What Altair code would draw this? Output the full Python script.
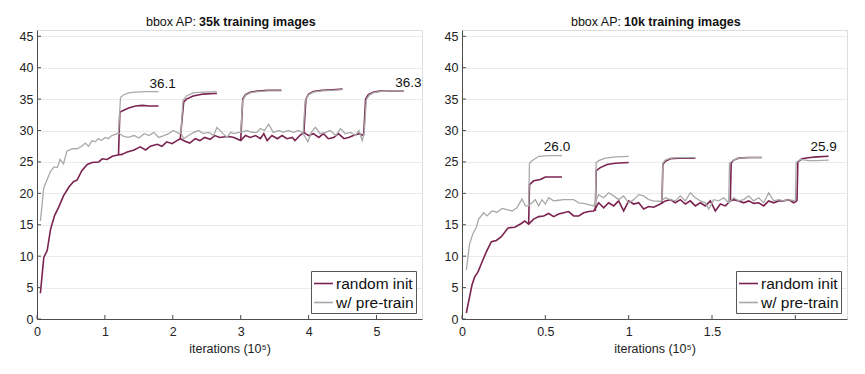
import altair as alt
import pandas as pd

# ---------------- data (x in units of 1e5 iterations, y = bbox AP) ----------------
SERIES = ["random init", "w/ pre-train"]
COLORS = ["#7b2350", "#a9a9a9"]

# Left panel: 35k training images
L_RAND_X = [0.05, 0.1, 0.15, 0.2, 0.26, 0.32, 0.39, 0.47, 0.54, 0.59, 0.66, 0.74, 0.81, 0.91, 0.96, 1.03, 1.11, 1.19,
            1.25, 1.33, 1.43, 1.52, 1.6, 1.67, 1.77, 1.84, 1.91, 1.99, 2.06, 2.11, 2.18, 2.25, 2.33, 2.4, 2.47, 2.55,
            2.62, 2.69, 2.77, 2.85, 2.9, 3.0, 3.07, 3.14, 3.22, 3.29, 3.34, 3.39, 3.46, 3.54, 3.61, 3.68, 3.76, 3.8,
            3.87, 3.93, 4.0, 4.07, 4.15, 4.22, 4.29, 4.37, 4.44, 4.52, 4.59, 4.66, 4.74, 4.81]
L_RAND_Y = [4.1, 9.8, 10.9, 14.3, 16.5, 17.8, 19.6, 21.0, 21.9, 22.1, 23.6, 24.6, 24.9, 25.0, 25.5, 25.4, 25.9, 26.1,
            26.2, 26.6, 26.9, 27.4, 26.9, 27.5, 27.8, 27.5, 28.2, 27.9, 28.4, 28.7, 28.3, 28.0, 28.7, 28.4, 28.9, 28.6,
            29.2, 28.9, 29.0, 29.0, 28.9, 28.4, 29.2, 28.9, 29.2, 28.7, 29.5, 28.4, 29.2, 28.7, 29.2, 28.7, 28.9, 28.4,
            29.2, 29.7, 29.2, 29.5, 28.9, 29.5, 28.7, 28.9, 29.5, 28.7, 28.9, 29.2, 29.5, 29.2]
L_PRE_X = [0.05, 0.1, 0.15, 0.2, 0.25, 0.3, 0.34, 0.39, 0.44, 0.52, 0.59, 0.66, 0.71, 0.76, 0.81, 0.86, 0.9, 0.95,
           1.0, 1.05, 1.1, 1.15, 1.2, 1.27, 1.34, 1.43, 1.5, 1.58, 1.65, 1.72, 1.79, 1.87, 1.94, 2.01, 2.09, 2.12,
           2.16, 2.23, 2.31, 2.38, 2.45, 2.53, 2.6, 2.65, 2.72, 2.8, 2.85, 2.9, 2.97, 3.0, 3.09, 3.16, 3.24, 3.29,
           3.35, 3.41, 3.48, 3.56, 3.63, 3.7, 3.78, 3.85, 3.91, 3.99, 4.04, 4.1, 4.17, 4.25, 4.32, 4.4, 4.47, 4.54,
           4.62, 4.69, 4.74, 4.79, 4.82]
L_PRE_Y = [15.6, 20.9, 22.2, 23.5, 24.2, 24.1, 25.4, 24.7, 26.7, 27.1, 27.1, 27.5, 28.0, 27.5, 28.4, 28.2, 28.7, 28.4,
           28.9, 28.7, 29.2, 29.4, 29.6, 29.1, 28.9, 29.2, 28.8, 29.5, 29.2, 29.7, 28.9, 29.2, 29.5, 30.0, 29.5, 29.6,
           28.7, 29.2, 29.7, 30.0, 29.5, 29.7, 29.2, 30.5, 29.7, 28.9, 29.7, 29.5, 29.7, 29.7, 30.0, 29.7, 29.7, 30.3,
           30.0, 31.0, 29.7, 30.0, 29.7, 30.0, 29.7, 30.0, 29.7, 28.2, 29.7, 30.5, 29.5, 29.7, 30.0, 29.2, 30.3, 29.5,
           29.7, 29.2, 30.0, 28.4, 29.7]
L_RAND_FT_X = [[1.2, 1.22, 1.27, 1.35, 1.45, 1.55, 1.65, 1.79],
               [2.11, 2.16, 2.2, 2.3, 2.45, 2.6, 2.65],
               [3.0, 3.03, 3.07, 3.14, 3.25, 3.4, 3.6],
               [3.93, 3.96, 4.0, 4.07, 4.2, 4.35, 4.5],
               [4.81, 4.84, 4.88, 4.95, 5.05, 5.2, 5.4]]
L_RAND_FT_Y = [[26.1, 32.9, 33.2, 33.6, 33.9, 34.0, 33.9, 33.9],
               [28.7, 34.5, 35.0, 35.5, 35.8, 35.9, 35.9],
               [28.4, 35.0, 35.7, 36.1, 36.3, 36.4, 36.4],
               [29.7, 35.0, 35.8, 36.2, 36.4, 36.5, 36.6],
               [29.2, 35.0, 35.7, 36.1, 36.3, 36.3, 36.3]]
L_PRE_FT_X = [[1.2, 1.23, 1.28, 1.35, 1.45, 1.6, 1.79],
              [2.12, 2.15, 2.2, 2.3, 2.45, 2.65],
              [3.0, 3.03, 3.07, 3.14, 3.25, 3.4, 3.6],
              [3.92, 3.95, 4.0, 4.07, 4.2, 4.35, 4.5],
              [4.82, 4.85, 4.89, 4.95, 5.05, 5.2, 5.4]]
L_PRE_FT_Y = [[29.6, 35.3, 35.7, 36.0, 36.1, 36.2, 36.2],
              [29.6, 34.8, 35.5, 36.0, 36.1, 36.2],
              [29.7, 34.8, 35.6, 36.0, 36.2, 36.3, 36.3],
              [29.7, 34.8, 35.7, 36.1, 36.3, 36.4, 36.5],
              [29.7, 34.9, 35.6, 36.0, 36.2, 36.3, 36.3]]
L_NOTE_X = [1.85, 5.47]
L_NOTE_Y = [37.4, 37.6]
L_NOTE_T = ["36.1", "36.3"]

# Right panel: 10k training images
R_RAND_X = [0.026, 0.046, 0.06, 0.076, 0.096, 0.116, 0.146, 0.176, 0.206, 0.236, 0.276, 0.316, 0.356, 0.376, 0.4,
            0.43, 0.46, 0.49, 0.52, 0.55, 0.58, 0.61, 0.64, 0.67, 0.7, 0.73, 0.76, 0.79, 0.82, 0.85, 0.88, 0.91,
            0.94, 0.97, 1.0, 1.03, 1.06, 1.09, 1.12, 1.15, 1.19, 1.22, 1.25, 1.28, 1.31, 1.34, 1.37, 1.4, 1.43, 1.46,
            1.49, 1.52, 1.55, 1.58, 1.61, 1.63, 1.66, 1.69, 1.72, 1.75, 1.78, 1.81, 1.84, 1.87, 1.9, 1.93, 1.96,
            1.99, 2.01]
R_RAND_Y = [0.95, 3.6, 5.4, 6.7, 7.5, 8.8, 10.7, 12.3, 12.5, 13.1, 14.5, 14.6, 15.2, 15.6, 15.1, 15.9, 16.3, 16.4,
            16.8, 16.3, 16.7, 16.9, 17.1, 16.4, 16.4, 16.9, 17.1, 17.2, 18.5, 17.7, 18.5, 18.0, 18.8, 17.2, 18.8,
            18.3, 18.5, 17.5, 17.9, 17.8, 18.3, 18.8, 19.0, 18.5, 19.0, 18.3, 18.8, 18.0, 18.5, 18.0, 18.8, 17.2,
            18.3, 18.0, 18.8, 19.0, 18.8, 18.5, 18.8, 18.4, 18.5, 18.0, 18.8, 18.5, 18.8, 18.8, 19.0, 18.5, 18.8]
R_PRE_X = [0.026, 0.046, 0.066, 0.086, 0.1, 0.13, 0.15, 0.18, 0.21, 0.24, 0.27, 0.3, 0.33, 0.36, 0.38, 0.4, 0.42,
           0.44, 0.46, 0.48, 0.5, 0.52, 0.55, 0.58, 0.61, 0.64, 0.67, 0.7, 0.73, 0.76, 0.79, 0.82, 0.85, 0.88, 0.91,
           0.94, 0.97, 1.0, 1.03, 1.06, 1.09, 1.12, 1.15, 1.19, 1.22, 1.25, 1.28, 1.31, 1.34, 1.37, 1.4, 1.43, 1.46,
           1.48, 1.51, 1.54, 1.57, 1.6, 1.63, 1.66, 1.69, 1.72, 1.75, 1.78, 1.81, 1.84, 1.87, 1.9, 1.93, 1.96, 2.0]
R_PRE_Y = [7.8, 12.0, 13.6, 14.6, 15.9, 16.9, 16.4, 17.2, 17.0, 17.6, 17.4, 17.2, 17.7, 19.1, 18.0, 18.0, 18.5,
           19.0, 18.0, 19.0, 18.3, 19.3, 18.8, 18.9, 19.0, 19.0, 19.0, 18.5, 18.4, 18.2, 18.0, 19.8, 19.3, 20.1,
           19.6, 19.0, 19.6, 18.5, 19.0, 19.8, 19.6, 19.0, 18.8, 18.7, 19.3, 19.0, 18.8, 19.6, 18.8, 20.1, 19.3,
           18.8, 18.5, 17.5, 19.0, 18.8, 19.3, 18.5, 19.3, 18.8, 19.0, 19.6, 18.8, 19.3, 18.5, 20.1, 18.8, 19.0,
           18.8, 19.0, 18.8]
R_RAND_FT_X = [[0.4, 0.405, 0.43, 0.47, 0.5, 0.55, 0.6],
               [0.8, 0.805, 0.83, 0.87, 0.92, 1.0],
               [1.2, 1.205, 1.22, 1.25, 1.3, 1.4],
               [1.61, 1.615, 1.63, 1.66, 1.72, 1.8],
               [2.01, 2.015, 2.04, 2.09, 2.13, 2.2]]
R_RAND_FT_Y = [[15.1, 21.4, 22.0, 22.2, 22.6, 22.6, 22.6],
               [17.2, 23.6, 24.1, 24.6, 24.8, 24.9],
               [18.3, 24.6, 25.1, 25.5, 25.6, 25.6],
               [18.8, 24.8, 25.3, 25.6, 25.7, 25.7],
               [18.8, 25.0, 25.5, 25.7, 25.8, 25.9]]
R_PRE_FT_X = [[0.4, 0.405, 0.42, 0.46, 0.52, 0.6],
              [0.8, 0.805, 0.82, 0.86, 0.92, 1.0],
              [1.2, 1.205, 1.22, 1.25, 1.3, 1.4],
              [1.6, 1.605, 1.63, 1.66, 1.72, 1.8],
              [2.0, 2.005, 2.03, 2.08, 2.13, 2.2]]
R_PRE_FT_Y = [[18.0, 24.8, 25.2, 25.9, 26.0, 26.0],
              [18.0, 24.9, 25.2, 25.6, 25.8, 25.9],
              [18.7, 24.8, 25.3, 25.6, 25.7, 25.7],
              [18.5, 24.8, 25.3, 25.6, 25.7, 25.7],
              [18.8, 24.9, 25.4, 25.2, 25.2, 25.3]]
R_NOTE_X = [0.57, 2.17]
R_NOTE_Y = [27.4, 27.3]
R_NOTE_T = ["26.0", "25.9"]

Y_TICKS = [0, 5, 10, 15, 20, 25, 30, 35, 40, 45]
L_X_TICKS = [0, 1, 2, 3, 4, 5]
L_X_LABELS = [0, 1, 2, 3, 4, 5]
R_X_TICKS = [0, 0.5, 1, 1.5, 2]
R_X_LABELS = [0, 0.5, 1, 1.5]

TITLES = [("bbox AP:", "35k training images"), ("bbox AP:", "10k training images")]

# ---------------- layout constants ----------------
W, H = 385, 289
FONT = "Liberation Sans"
AXIS_COLOR = "#4d4d4d"


def build_df(main_x, main_y, ft_x, ft_y, name):
    rows = []
    assert len(main_x) == len(main_y)
    for i, (a, b) in enumerate(zip(main_x, main_y)):
        rows.append({"x": a, "y": b, "series": name, "seg": name + "-main", "i": i})
    for k, (xs, ys) in enumerate(zip(ft_x, ft_y)):
        assert len(xs) == len(ys)
        for i, (a, b) in enumerate(zip(xs, ys)):
            rows.append({"x": a, "y": b, "series": name, "seg": f"{name}-ft{k}", "i": i})
    return pd.DataFrame(rows)


def panel(rand, pre, notes, xmax, xticks, xlabels, title):
    xscale = alt.Scale(domain=[0, xmax], nice=False, zero=False)
    yscale = alt.Scale(domain=[0, 46], nice=False)
    color = alt.Color(
        "series:N",
        scale=alt.Scale(domain=SERIES, range=COLORS),
        legend=alt.Legend(
            title=None, orient="bottom-right", offset=6, fillColor="white",
            strokeColor="#555555", padding=2, labelFont=FONT, labelFontSize=15.5,
            labelColor="#111111", symbolType="stroke", symbolSize=360,
            symbolStrokeWidth=1.6, rowPadding=0, labelOffset=2, labelLimit=200,
        ),
    )
    xaxis = alt.Axis(values=xlabels, title="iterations (10⁵)", grid=False, ticks=False,
                     labelPadding=6, labelFontSize=12.5, labelFont=FONT, labelColor="#222222",
                     titleFont=FONT, titleFontSize=12.5, titleFontWeight="normal", titleColor="#222222",
                     titlePadding=5, domainColor=AXIS_COLOR, labelFlush=False, format="~g")
    yaxis = alt.Axis(values=Y_TICKS, title=None, grid=True, gridColor="#ebebeb", ticks=False,
                     labelPadding=4, labelFontSize=12.5, labelFont=FONT, labelColor="#222222",
                     domainColor=AXIS_COLOR)
    xenc = alt.X("x:Q", scale=xscale, axis=xaxis)
    yenc = alt.Y("y:Q", scale=yscale, axis=yaxis)
    red = alt.Chart(rand).mark_line(strokeWidth=1.6).encode(
        x=xenc, y=yenc, color=color, detail="seg:N", order="i:Q")
    gray = alt.Chart(pre).mark_line(strokeWidth=1.3).encode(
        x=xenc, y=yenc, color=color, detail="seg:N", order="i:Q")
    note_df = pd.DataFrame({"x": notes[0], "y": notes[1], "t": notes[2]})
    note = alt.Chart(note_df).mark_text(font=FONT, fontSize=13.5, color="#111111").encode(
        x=xenc, y=yenc, text="t:N")
    xt = alt.Chart(pd.DataFrame({"x": xticks})).mark_rule(color=AXIS_COLOR, strokeWidth=1).encode(
        x=xenc, y=alt.value(H), y2=alt.value(H - 4))
    yt = alt.Chart(pd.DataFrame({"y": Y_TICKS})).mark_rule(color=AXIS_COLOR, strokeWidth=1).encode(
        y=yenc, x=alt.value(0), x2=alt.value(4))
    t1 = alt.Chart(pd.DataFrame({"t": [title[0]]})).mark_text(
        font=FONT, fontSize=12.5, align="right", baseline="middle", color="#111111").encode(
        text="t:N", x=alt.value(159), y=alt.value(-8))
    t2 = alt.Chart(pd.DataFrame({"t": [title[1]]})).mark_text(
        font=FONT, fontSize=12.5, fontWeight="bold", align="left", baseline="middle", color="#111111").encode(
        text="t:N", x=alt.value(162), y=alt.value(-8))
    return alt.layer(red, gray, xt, yt, note, t1, t2).properties(width=W, height=H)


left = panel(
    build_df(L_RAND_X, L_RAND_Y, L_RAND_FT_X, L_RAND_FT_Y, SERIES[0]),
    build_df(L_PRE_X, L_PRE_Y, L_PRE_FT_X, L_PRE_FT_Y, SERIES[1]),
    (L_NOTE_X, L_NOTE_Y, L_NOTE_T), 5.67, L_X_TICKS, L_X_LABELS, TITLES[0])
right = panel(
    build_df(R_RAND_X, R_RAND_Y, R_RAND_FT_X, R_RAND_FT_Y, SERIES[0]),
    build_df(R_PRE_X, R_PRE_Y, R_PRE_FT_X, R_PRE_FT_Y, SERIES[1]),
    (R_NOTE_X, R_NOTE_Y, R_NOTE_T), 2.31, R_X_TICKS, R_X_LABELS, TITLES[1])

chart = alt.hconcat(left, right, spacing=20).resolve_scale(
    color="independent", x="independent", y="independent"
).resolve_legend(color="independent").properties(
    padding={"left": 10, "top": 7, "right": 5, "bottom": 5}
).configure_view(stroke=None).configure(background="white")

chart.save("out.html", embed_options={"renderer": "svg", "actions": False})
